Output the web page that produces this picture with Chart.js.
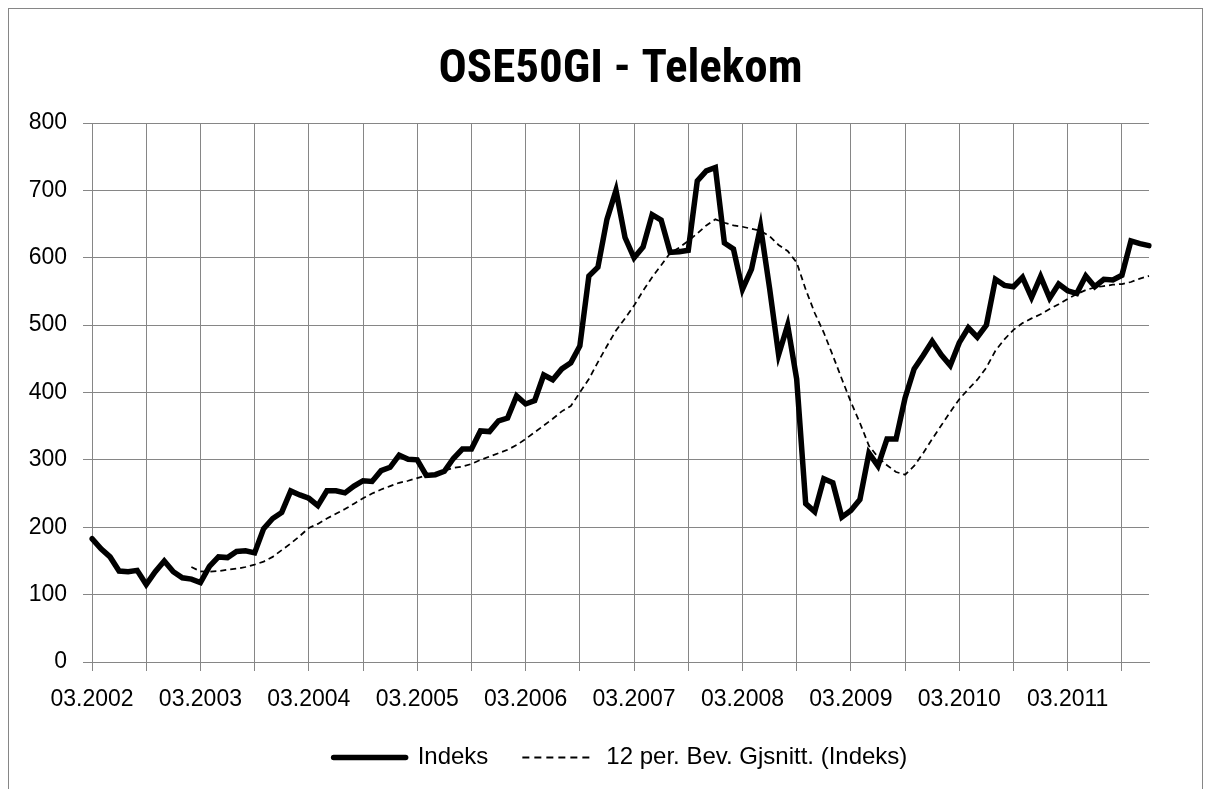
<!DOCTYPE html>
<html>
<head>
<meta charset="utf-8">
<script src="https://cdn.jsdelivr.net/npm/chart.js@4.4.0/dist/chart.umd.min.js"></script>
<style>
html,body{margin:0;padding:0;background:#fff;overflow:hidden;}
#wrap{position:relative;width:1211px;height:789px;}
#frame{position:absolute;left:8px;top:8px;width:1195px;height:830px;border:1px solid #868686;box-sizing:border-box;pointer-events:none;}
canvas{position:absolute;left:0;top:0;}
</style>
</head>
<body>
<div id="wrap"><canvas id="c" width="1211" height="789"></canvas><div id="frame"></div></div>
<script>
const categories = [
  "03.2002","04.2002","05.2002","06.2002","07.2002","08.2002","09.2002","10.2002","11.2002","12.2002",
  "01.2003","02.2003","03.2003","04.2003","05.2003","06.2003","07.2003","08.2003","09.2003","10.2003","11.2003","12.2003",
  "01.2004","02.2004","03.2004","04.2004","05.2004","06.2004","07.2004","08.2004","09.2004","10.2004","11.2004","12.2004",
  "01.2005","02.2005","03.2005","04.2005","05.2005","06.2005","07.2005","08.2005","09.2005","10.2005","11.2005","12.2005",
  "01.2006","02.2006","03.2006","04.2006","05.2006","06.2006","07.2006","08.2006","09.2006","10.2006","11.2006","12.2006",
  "01.2007","02.2007","03.2007","04.2007","05.2007","06.2007","07.2007","08.2007","09.2007","10.2007","11.2007","12.2007",
  "01.2008","02.2008","03.2008","04.2008","05.2008","06.2008","07.2008","08.2008","09.2008","10.2008","11.2008","12.2008",
  "01.2009","02.2009","03.2009","04.2009","05.2009","06.2009","07.2009","08.2009","09.2009","10.2009","11.2009","12.2009",
  "01.2010","02.2010","03.2010","04.2010","05.2010","06.2010","07.2010","08.2010","09.2010","10.2010","11.2010","12.2010",
  "01.2011","02.2011","03.2011","04.2011","05.2011","06.2011","07.2011","08.2011","09.2011","10.2011","11.2011","12.2011"
];

const xTickLabels = ["03.2002","03.2003","03.2004","03.2005","03.2006","03.2007","03.2008","03.2009","03.2010","03.2011"];
const gridMonths = ["03","09"];
const yTicks = [0,100,200,300,400,500,600,700,800];

const indeks = [
  183,168,156,135,134,136,115,134,150,134,125,123,
  118,142,156,155,164,165,162,198,213,222,254,248,
  243,232,254,254,251,261,269,268,284,289,307,301,
  300,277,278,283,302,316,316,343,342,358,362,395,
  383,388,426,419,435,444,469,573,586,657,700,630,
  600,616,664,656,608,609,611,714,729,734,622,613,
  553,583,646,555,456,500,420,235,223,272,266,215,
  225,241,310,291,331,331,392,435,455,476,456,440,
  474,496,482,500,568,559,557,571,541,572,540,561,
  551,547,573,557,568,567,574,625,621,618
];

const movingAvg = [
  null,null,null,null,null,null,null,null,null,null,null,141,
  134.5,134,135,137,138.5,141,144.5,149,156,166,176,187,
  199,205,213,220,227,235,243,250,256,261,266,269,
  273,277,279,284,288,290,294,300,305,310,315,322,
  331,341,351,361,372,380,400,420,445,469,492,510,
  529,551,571,589,607,615,625,636,648,657,652,648,
  646,643,640,632,619,610,593,553,518,489,455,420,
  386,355,321,304,292,282,278,291,310,331,351,371,
  390,405,419,437,462,479,493,503,510,516,524,531,
  539,546,552,556,558,560,561,564,569,573
];

const gridColor = '#868686';
const tickFont = {family:"'Liberation Sans', Arial, sans-serif", size:23};
const legendFont = {family:"'Liberation Sans', Arial, sans-serif", size:24};

const ctx = document.getElementById('c').getContext('2d');
new Chart(ctx, {
  type: 'line',
  data: {
    labels: categories,
    datasets: [
      {
        label: 'Indeks',
        data: indeks,
        borderColor: '#000',
        backgroundColor: '#000',
        borderWidth: 5.5,
        pointRadius: 0,
        tension: 0,
        fill: false,
        borderCapStyle: 'round',
        borderJoinStyle: 'miter'
      },
      {
        label: '12 per. Bev. Gjsnitt. (Indeks)',
        data: movingAvg,
        borderColor: '#000',
        backgroundColor: '#000',
        borderWidth: 1.75,
        borderDash: [6, 4],
        pointRadius: 0,
        tension: 0,
        fill: false
      }
    ]
  },
  options: {
    responsive: false,
    animation: false,
    devicePixelRatio: 1,
    layout: {padding: {left: 9, right: 62, top: 8, bottom: 9.5}},
    plugins: {
      title: {
        display: true,
        fullSize: false,
        text: 'OSE50GI - Telekom',
        color: '#000',
        font: {family: "'Liberation Sans Narrow', 'Roboto Condensed', Roboto, sans-serif", size: 47, weight: 'bold', lineHeight: 1.2},
        padding: {top: 34.5, bottom: 24.1}
      },
      legend: {
        position: 'bottom',
        fullSize: false,
        labels: {
          usePointStyle: true,
          pointStyle: 'line',
          pointStyleWidth: 72,
          color: '#000',
          font: legendFont,
          padding: 34,
          generateLabels: (chart) => {
            const items = Chart.defaults.plugins.legend.labels.generateLabels(chart);
            items.forEach((it) => {
              const ds = chart.data.datasets[it.datasetIndex];
              it.lineDash = ds.borderDash ? [7, 5] : [];
              it.lineWidth = ds.borderDash ? 2 : ds.borderWidth;
              it.lineCap = ds.borderCapStyle || 'butt';
              it.strokeStyle = ds.borderColor;
              it.pointStyle = 'line';
            });
            return items;
          }
        }
      },
      tooltip: {enabled: false}
    },
    scales: {
      x: {
        grid: {
          color: (c) => {
            const lab = categories[c.index];
            return (lab && gridMonths.includes(lab.slice(0,2))) ? gridColor : 'rgba(0,0,0,0)';
          },
          lineWidth: 1,
          tickLength: 9,
          drawTicks: true
        },
        border: {color: gridColor, width: 1},
        ticks: {
          autoSkip: false,
          maxRotation: 0,
          minRotation: 0,
          color: '#000',
          font: tickFont,
          padding: 15,
          callback: (v, i) => xTickLabels.includes(categories[i]) ? categories[i] : ''
        },
        afterFit: (s) => { s.height = 49.5; }
      },
      y: {
        min: 0,
        max: 800,
        afterBuildTicks: (s) => { s.ticks = yTicks.map(v => ({value: v})); },
        grid: {color: gridColor, lineWidth: 1, tickLength: 9},
        border: {color: gridColor, width: 1},
        ticks: {color: '#000', font: tickFont, padding: 16},
        afterFit: (s) => { s.width = 83; }
      }
    }
  }
});
</script>
</body>
</html>
